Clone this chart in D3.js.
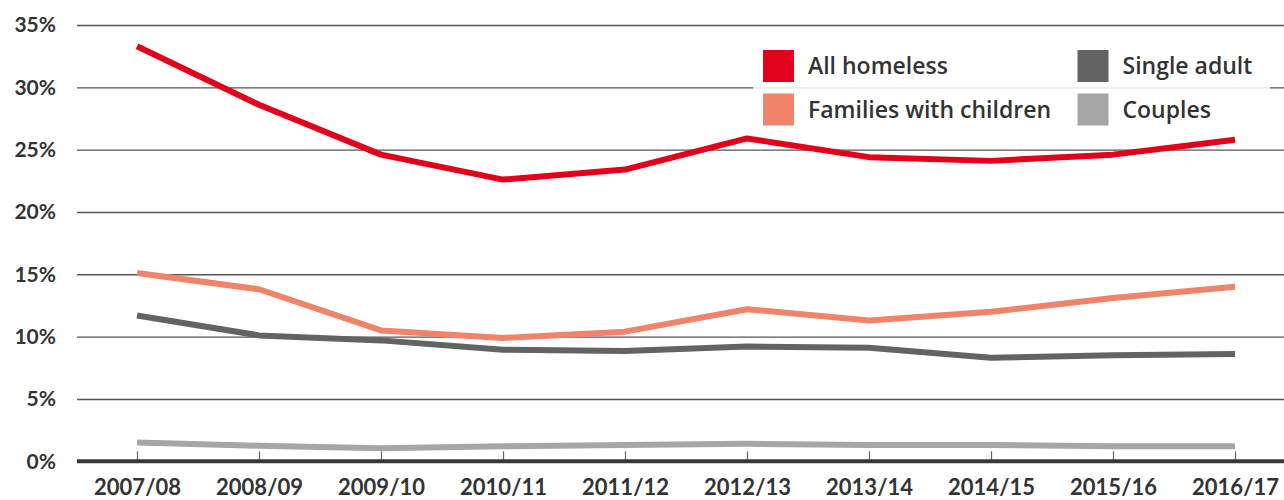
<!DOCTYPE html>
<html>
<head>
<meta charset="utf-8">
<script src="https://cdn.jsdelivr.net/npm/d3@7"></script>
<style>
  html, body { margin: 0; padding: 0; background: #fff; }
  svg { display: block; }
  text { font-family: Lato, "Open Sans", sans-serif; fill: #333; }
</style>
</head>
<body>
<svg id="chart" width="1284" height="500"></svg>
<script>
// Financial years on the x axis
const years = ["2007/08", "2008/09", "2009/10", "2010/11", "2011/12",
               "2012/13", "2013/14", "2014/15", "2015/16", "2016/17"];

// Share of each household type (%)
const allHomeless = [33.3, 28.6, 24.6, 22.6, 23.4, 25.9, 24.4, 24.1, 24.6, 25.8];
const familiesWithChildren = [15.1, 13.8, 10.5, 9.9, 10.4, 12.2, 11.3, 12.0, 13.1, 14.0];
const singleAdult = [11.7, 10.1, 9.7, 8.95, 8.85, 9.2, 9.1, 8.3, 8.5, 8.6];
const couples = [1.5, 1.25, 1.05, 1.2, 1.3, 1.4, 1.3, 1.3, 1.2, 1.2];

const yTicks = [0, 5, 10, 15, 20, 25, 30, 35];

const seriesNames = ["All homeless", "Families with children", "Single adult", "Couples"];
const seriesColors = ["#e2001a", "#f0836a", "#636363", "#a6a6a6"];

const series = [
  { name: seriesNames[0], color: seriesColors[0], values: allHomeless },
  { name: seriesNames[1], color: seriesColors[1], values: familiesWithChildren },
  { name: seriesNames[2], color: seriesColors[2], values: singleAdult },
  { name: seriesNames[3], color: seriesColors[3], values: couples }
];

const svg = d3.select("#chart");
const left = 77, right = 1284;

const x = d3.scalePoint().domain(years).range([137, 1235]);
const y = d3.scaleLinear().domain([0, 35]).range([461.3, 25]);

// Horizontal gridlines with percentage labels
const yAxis = d3.axisLeft(y)
  .tickValues(yTicks)
  .tickSize(-(right - left))
  .tickPadding(21)
  .tickFormat(d => d + "%");

const gy = svg.append("g")
  .attr("transform", `translate(${left},0)`)
  .call(yAxis);
gy.select(".domain").remove();
gy.selectAll(".tick line").attr("stroke", "#555").attr("stroke-width", 1.4);
gy.selectAll(".tick text")
  .style("font-size", "21px").style("font-weight", "700")
  .attr("fill", "#333");

// Category axis: short ticks rising from the baseline, labels below
const xAxis = d3.axisBottom(x).tickSize(-10).tickPadding(18);
const gx = svg.append("g")
  .attr("transform", `translate(0,${y(0)})`)
  .call(xAxis);
gx.select(".domain").remove();
gx.selectAll(".tick line").attr("stroke", "#666").attr("stroke-width", 1.2);
gx.selectAll(".tick text")
  .style("font-size", "22px").style("font-weight", "700")
  .attr("fill", "#333");

// Legend panel sits over the gridlines
const legend = svg.append("g");
legend.append("rect")
  .attr("x", 753).attr("y", 42).attr("width", 517).attr("height", 92)
  .attr("fill", "#fff").attr("fill-opacity", 0.85);

const legendPos = [
  { sx: 763, sy: 50 },
  { sx: 763, sy: 93.5 },
  { sx: 1077.5, sy: 50 },
  { sx: 1077.5, sy: 93.5 }
];
series.forEach((s, i) => {
  const p = legendPos[i];
  legend.append("rect")
    .attr("x", p.sx).attr("y", p.sy).attr("width", 31).attr("height", 32)
    .attr("fill", s.color);
  legend.append("text")
    .attr("x", p.sx + 45).attr("y", p.sy + 15)
    .attr("dominant-baseline", "central")
    .style("font-family", "'Open Sans', sans-serif")
    .style("font-size", "23px").style("font-weight", "600")
    .attr("fill", "#333")
    .text(s.name);
});

// Series lines
const line = d3.line()
  .x((d, i) => x(years[i]))
  .y(d => y(d));

svg.append("g").selectAll("path")
  .data(series.slice().reverse())
  .join("path")
  .attr("d", d => line(d.values))
  .attr("fill", "none")
  .attr("stroke", d => d.color)
  .attr("stroke-width", 6)
  .attr("stroke-linejoin", "round")
  .attr("stroke-linecap", "butt");

// Heavy baseline at 0%
svg.append("line")
  .attr("x1", left).attr("x2", right)
  .attr("y1", y(0)).attr("y2", y(0))
  .attr("stroke", "#383838").attr("stroke-width", 4);
</script>
</body>
</html>
